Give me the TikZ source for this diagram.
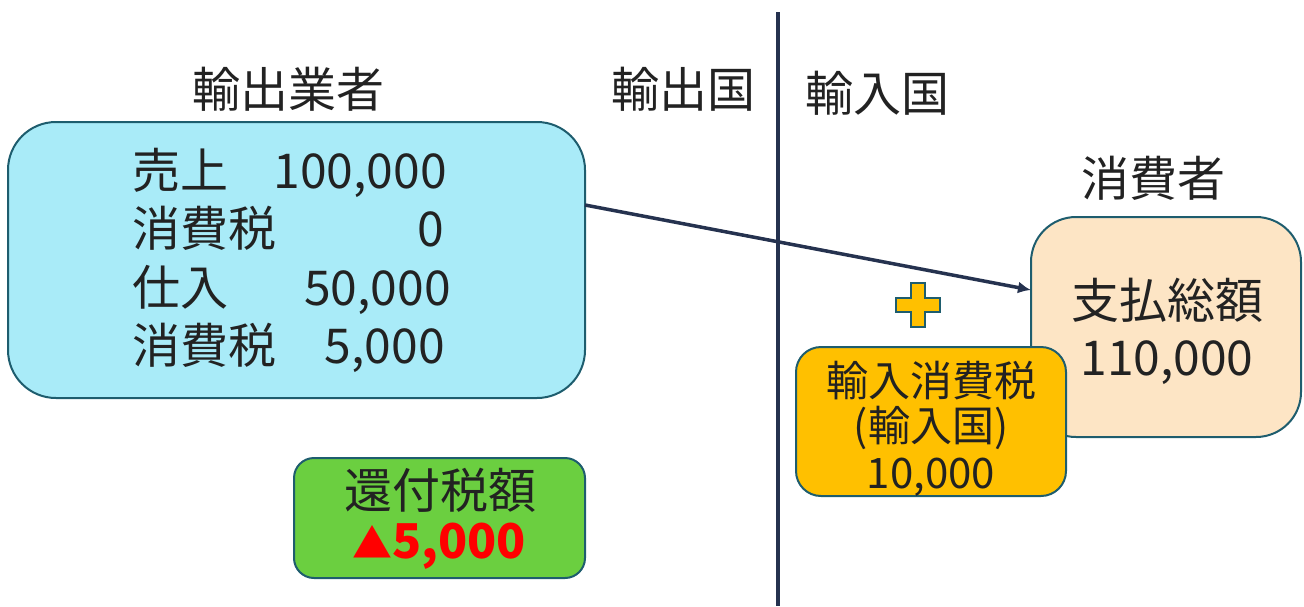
\documentclass[tikz,border=0pt]{standalone}
\usepackage{fontspec}
\setmainfont{Noto Sans CJK JP}
\usetikzlibrary{arrows.meta}
\definecolor{boxedge}{HTML}{1E5D6E}
\definecolor{cyanfill}{HTML}{A9EBF8}
\definecolor{peachfill}{HTML}{FDE5C5}
\definecolor{goldfill}{HTML}{FFC000}
\definecolor{greenfill}{HTML}{6BCF40}
\definecolor{navyline}{HTML}{25324F}
\definecolor{txt}{HTML}{222222}
\tikzset{
  panel/.style={draw=boxedge, line width=2pt},
  big/.style={inner sep=0pt, text=txt, font=\fontsize{48}{56}\selectfont},
  mid/.style={inner sep=0pt, text=txt, font=\fontsize{42}{48}\selectfont},
}
\begin{document}
\begin{tikzpicture}[x=1pt,y=-1pt]
\useasboundingbox (0,0) rectangle (1304,606);
% divider
\coordinate (vtop) at (778,12);
\coordinate (vbot) at (778,606);
\draw[navyline, line width=4pt] (vtop) -- (vbot);
% headers
\node[big] (exporter) at (288,89) {輸出業者};
\node[big] (excountry) at (683,89) {輸出国};
\node[big] (imcountry) at (877,93) {輸入国};
\node[big] (consumer) at (1153,178) {消費者};
% left box
\draw[panel, fill=cyanfill, rounded corners=48pt] (8,122) rectangle (585,398);
\coordinate (lboxE) at (585,205);
\node[big, anchor=base west] (l1) at (132,188) {売上};
\node[big, anchor=base east] (v1) at (447,188) {100,000};
\node[big, anchor=base west] (l2) at (132,246) {消費税};
\node[big, anchor=base east] (v2) at (444,246) {0};
\node[big, anchor=base west] (l3) at (132,305) {仕入};
\node[big, anchor=base east] (v3) at (451,305) {50,000};
\node[big, anchor=base west] (l4) at (132,363) {消費税};
\node[big, anchor=base east] (v4) at (445,363) {5,000};
% right box
\draw[panel, fill=peachfill, rounded corners=45pt] (1031,217) rectangle (1301,437);
\coordinate (rboxW) at (1031,290);
\node[big] (pay) at (1167,300) {支払総額};
\node[big, anchor=base] (payv) at (1167,375) {110,000};
% arrow
\draw[navyline, line width=3.5pt, -{Latex[length=13pt,width=12pt]}] (lboxE) -- (rboxW);
% plus sign
\draw[boxedge, line width=1.5pt, fill=goldfill]
  (911,283) -- (925,283) -- (925,298) -- (940,298) -- (940,312) -- (925,312) -- (925,327)
  -- (911,327) -- (911,312) -- (896,312) -- (896,298) -- (911,298) -- cycle;
% import tax box
\draw[panel, fill=goldfill, rounded corners=25pt] (796,347) rectangle (1066,496);
\node[mid] (imtax) at (931,381) {輸入消費税};
\node[mid] (imtax2) at (931,428) {(輸入国)};
\node[mid, anchor=base] (imtaxv) at (931,488) {10,000};
% refund box
\draw[panel, fill=greenfill, rounded corners=20pt] (294,458) rectangle (585,578);
\node[big] (refund) at (440,490) {還付税額};
\node[big, anchor=base, text=red, font=\fontsize{48}{56}\selectfont\bfseries] (refundv) at (439,558) {{\fontsize{40}{48}\selectfont ▲}5,000};
\end{tikzpicture}
\end{document}
